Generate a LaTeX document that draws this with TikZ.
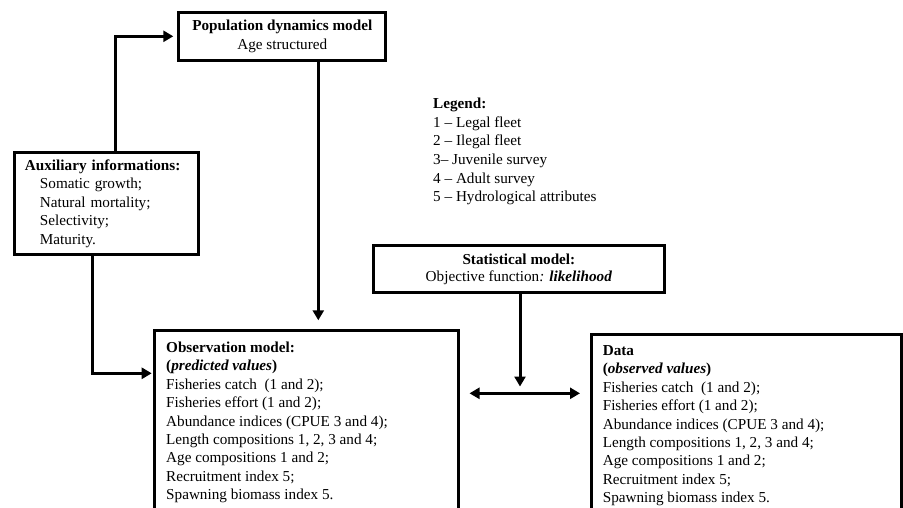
\documentclass[tikz,border=0pt]{standalone}
\usepackage{fontspec}
\setmainfont{Liberation Serif}
\usetikzlibrary{arrows.meta}
\newcommand\fsz{\fontsize{15.2}{18.4}\selectfont}
\newcommand\fszl{\fontsize{15.2}{18.7}\selectfont}
\begin{document}
\begin{tikzpicture}[x=1pt,y=-1pt,
  box/.style={draw=black, line width=3pt, inner sep=0pt, font=\fsz},
  conn/.style={line width=3pt},
  arr/.style={conn, -{Triangle[length=10pt,width=11pt]}},
  darr/.style={conn, {Triangle[length=10pt,width=11pt]}-{Triangle[length=10pt,width=11pt]}},
]
\useasboundingbox (0,0) rectangle (903,507);
\clip (0,0) rectangle (903,507);

% Population dynamics model
\node[box, minimum width=207pt, minimum height=47.7pt, align=center] (pop) at (282.3,36.3)
  {\textbf{Population dynamics model}\\Age structured};

% Auxiliary informations
\node[box, minimum width=183.7pt, minimum height=102pt, text width=163.3pt, align=left] (aux) at (106.6,203.5)
  {\textbf{Auxiliary informations:}\\
   \hspace*{15pt}Somatic growth;\\
   \hspace*{15pt}Natural mortality;\\
   \hspace*{15pt}Selectivity;\\
   \hspace*{15pt}Maturity.};

% Legend
\node[anchor=north west, inner sep=0pt, align=left, font=\fszl] (legend) at (433,95.2)
  {\strut\textbf{Legend:}\\
   1 -- Legal fleet\\
   2 -- Ilegal fleet\\
   3-- Juvenile survey\\
   4 -- Adult survey\\
   5 -- Hydrological attributes};

% Statistical model
\node[box, minimum width=291.3pt, minimum height=47pt, align=center] (stat) at (518.9,269.3)
  {\textbf{Statistical model:}\\[-1.7pt]Objective function\textit{:} \textbf{\textit{likelihood}}};

% Observation model
\node[box, anchor=north west, inner xsep=11.5pt, inner ysep=9.3pt] (obs) at (153.2,328.8)
  {\parbox[t][185pt][t]{280.3pt}{\fsz\strut\textbf{Observation model:}\\
   \textbf{(\textit{predicted values})}\\
   Fisheries catch~ (1 and 2);\\
   Fisheries effort (1 and 2);\\
   Abundance indices (CPUE 3 and 4);\\
   Length compositions 1, 2, 3 and 4;\\
   Age compositions 1 and 2;\\
   Recruitment index 5;\\
   Spawning biomass index 5.}};

% Data
\node[box, anchor=north west, inner xsep=11.5pt, inner ysep=7.9pt] (data) at (589.8,333.2)
  {\parbox[t][185pt][t]{287.2pt}{\fsz\strut\textbf{Data}\\
   \textbf{(\textit{observed values})}\\
   Fisheries catch~ (1 and 2);\\
   Fisheries effort (1 and 2);\\
   Abundance indices (CPUE 3 and 4);\\
   Length compositions 1, 2, 3 and 4;\\
   Age compositions 1 and 2;\\
   Recruitment index 5;\\
   Spawning biomass index 5.}};

% Connectors
\coordinate (auxtop) at ([xshift=101.9pt]aux.north west);
\draw[arr, shorten >=4pt] (auxtop) |- (pop.west);

\coordinate (auxbot) at ([xshift=79.5pt]aux.south west);
\coordinate (obsin) at ([yshift=-44.5pt]obs.north west);
\draw[arr, shorten >=1.5pt] (auxbot) |- (obsin);

\coordinate (popout) at ([xshift=36pt]pop.south);
\draw[arr, shorten >=8.5pt] (popout) -- (popout |- obs.north);

\coordinate (statout) at ([xshift=1.1pt]stat.south);
\coordinate (stattip) at ([yshift=-92.2pt]statout);
\draw[arr] (statout) -- (stattip);

\coordinate (dl) at ([xshift=10pt,yshift=-64.5pt]obs.north east);
\coordinate (dr) at ([xshift=-9.8pt,yshift=-60.1pt]data.north west);
\draw[darr] (dl) -- (dr);
\end{tikzpicture}
\end{document}
